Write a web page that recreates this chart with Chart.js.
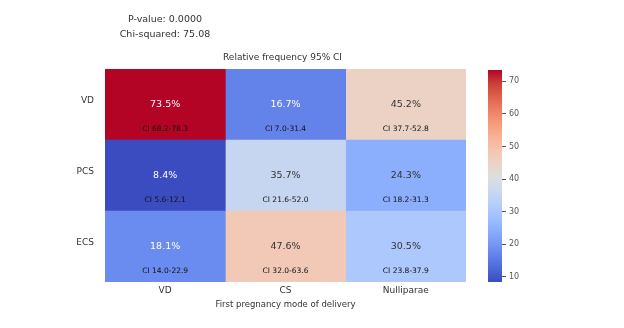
<!DOCTYPE html>
<html>
<head>
<meta charset="utf-8">
<script src="https://cdn.jsdelivr.net/npm/chart.js@4.4.1/dist/chart.umd.min.js"></script>
<style>
  html, body { margin: 0; padding: 0; background: #fff; }
  #wrap { position: relative; width: 624px; height: 328px; overflow: hidden; }
  canvas { position: absolute; top: 0; }
</style>
</head>
<body>
<div id="wrap">
  <canvas id="heat" width="624" height="328" style="left:0"></canvas>
  <canvas id="cbar" width="154" height="328" style="left:470px"></canvas>
</div>
<script>
// data
const rowLabels = ['VD', 'PCS', 'ECS'];
const colLabels = ['VD', 'CS', 'Nulliparae'];
const vdRow  = [73.5, 16.7, 45.2];
const pcsRow = [8.4, 35.7, 24.3];
const ecsRow = [18.1, 47.6, 30.5];
const vdCI  = ['68.2-78.3', '7.0-31.4', '37.7-52.8'];
const pcsCI = ['5.6-12.1', '21.6-52.0', '18.2-31.3'];
const ecsCI = ['14.0-22.9', '32.0-63.6', '23.8-37.9'];
const cbTicks = [10, 20, 30, 40, 50, 60, 70];
const pValue = 'P-value: 0.0000';
const chiSq = 'Chi-squared: 75.08';
const titleText = 'Relative frequency 95% CI';
const xTitle = 'First pregnancy mode of delivery';

const rows = [vdRow, pcsRow, ecsRow];
const cis = [vdCI, pcsCI, ecsCI];
const all = rows.flat();
const vmin = Math.min(...all);
const vmax = Math.max(...all);

// coolwarm colormap
const cw = [
  [59,76,192],[77,104,215],[98,130,234],[119,154,247],[141,176,254],
  [163,194,255],[184,208,249],[204,217,238],[221,221,221],[236,211,197],
  [245,196,173],[247,177,148],[244,154,123],[236,127,99],[222,96,77],
  [203,62,56],[180,4,38]
];
function cmap(t) {
  t = Math.max(0, Math.min(1, t));
  const p = t * (cw.length - 1);
  const i = Math.min(Math.floor(p), cw.length - 2);
  const f = p - i;
  return cw[i].map((c, k) => Math.round(c + (cw[i + 1][k] - c) * f));
}
function colorOf(v) {
  const c = cmap((v - vmin) / (vmax - vmin));
  return 'rgb(' + c.join(',') + ')';
}
function isDark(v) {
  const c = cmap((v - vmin) / (vmax - vmin)).map(x => {
    x /= 255;
    return x <= 0.03928 ? x / 12.92 : Math.pow((x + 0.055) / 1.055, 2.4);
  });
  return 0.2126 * c[0] + 0.7152 * c[1] + 0.0722 * c[2] < 0.408;
}

const FONT = 'DejaVu Sans';

// one dataset per column, each bar spans [c, c+1] on x
const datasets = colLabels.map((name, c) => ({
  label: name,
  data: rows.map(r => [c, c + 1]),
  backgroundColor: rows.map(r => colorOf(r[c])),
  borderWidth: 0,
  barPercentage: 1,
  categoryPercentage: 1
}));

const cellText = {
  id: 'cellText',
  afterDatasetsDraw(chart) {
    const ctx = chart.ctx;
    ctx.save();
    ctx.textAlign = 'center';
    ctx.textBaseline = 'middle';
    chart.data.datasets.forEach((ds, c) => {
      chart.getDatasetMeta(c).data.forEach((bar, r) => {
        const p = bar.getProps(['x', 'y', 'base', 'height'], true);
        const cx = (p.x + p.base) / 2;
        const top = p.y - p.height / 2;
        const v = rows[r][c];
        ctx.font = '9.5px "' + FONT + '"';
        ctx.fillStyle = isDark(v) ? '#ffffff' : '#333333';
        ctx.fillText(v.toFixed(1) + '%', cx, top + p.height * 0.5);
        ctx.font = '7.5px "' + FONT + '"';
        ctx.fillStyle = '#111111';
        ctx.fillText('CI ' + cis[r][c], cx, top + p.height * 0.85);
      });
    });
    ctx.restore();
  }
};

const headText = {
  id: 'headText',
  afterDraw(chart) {
    const ctx = chart.ctx;
    const a = chart.chartArea;
    ctx.save();
    ctx.textAlign = 'center';
    ctx.textBaseline = 'middle';
    ctx.fillStyle = '#333333';
    ctx.font = '9.5px "' + FONT + '"';
    ctx.fillText(pValue, 165, 20);
    ctx.fillText(chiSq, 165, 35);
    ctx.font = '9px "' + FONT + '"';
    ctx.fillText(titleText, (a.left + a.right) / 2 - 3, 58);
    ctx.restore();
  }
};

new Chart(document.getElementById('heat'), {
  type: 'bar',
  data: { labels: rowLabels, datasets: datasets },
  options: {
    indexAxis: 'y',
    responsive: false,
    animation: false,
    devicePixelRatio: 1,
    layout: { padding: { left: 0, top: 69, right: 158, bottom: 0 } },
    plugins: { legend: { display: false }, tooltip: { enabled: false }, title: { display: false } },
    scales: {
      x: {
        type: 'linear',
        min: 0,
        max: colLabels.length,
        grid: { display: false, drawTicks: false },
        border: { display: false },
        afterBuildTicks: axis => { axis.ticks = colLabels.map((l, i) => ({ value: i + 0.5 })); },
        afterFit: axis => { axis.height = 46; },
        ticks: {
          padding: 3,
          color: '#333',
          font: { family: FONT, size: 9 },
          callback: (v) => colLabels[Math.floor(v)]
        },
        title: {
          display: true,
          text: xTitle,
          color: '#333',
          font: { family: FONT, size: 8.5 },
          padding: { top: 0, bottom: 18 }
        }
      },
      y: {
        stacked: true,
        grid: { display: false, drawTicks: false },
        border: { display: false },
        afterFit: axis => { axis.width = 105; },
        ticks: {
          padding: 11,
          labelOffset: -4,
          color: '#333',
          font: { family: FONT, size: 9 }
        }
      }
    }
  },
  plugins: [cellText, headText]
});

// colorbar
const cbStops = cw.map((c, i) => [i / (cw.length - 1), 'rgb(' + c.join(',') + ')']);
new Chart(document.getElementById('cbar'), {
  type: 'bar',
  data: {
    labels: [''],
    datasets: [{
      data: [[vmin, vmax]],
      borderWidth: 0,
      barPercentage: 1,
      categoryPercentage: 1,
      backgroundColor: (ctx) => {
        const a = ctx.chart.chartArea;
        if (!a) return '#ccc';
        const y = ctx.chart.scales.y;
        const g = ctx.chart.ctx.createLinearGradient(0, y.getPixelForValue(vmin), 0, y.getPixelForValue(vmax));
        cbStops.forEach(s => g.addColorStop(s[0], s[1]));
        return g;
      }
    }]
  },
  options: {
    responsive: false,
    animation: false,
    devicePixelRatio: 1,
    layout: { padding: { left: 18, top: 70, right: 92, bottom: 46 } },
    plugins: { legend: { display: false }, tooltip: { enabled: false } },
    scales: {
      x: { display: false },
      y: {
        position: 'right',
        min: vmin,
        max: vmax,
        afterBuildTicks: axis => { axis.ticks = cbTicks.map(v => ({ value: v })); },
        afterFit: axis => { axis.width = 30; },
        border: { display: false },
        grid: { drawOnChartArea: false, drawTicks: true, tickLength: 4, color: '#555' },
        ticks: { padding: 3, color: '#555', font: { family: FONT, size: 8 } }
      }
    }
  }
});
</script>
</body>
</html>
